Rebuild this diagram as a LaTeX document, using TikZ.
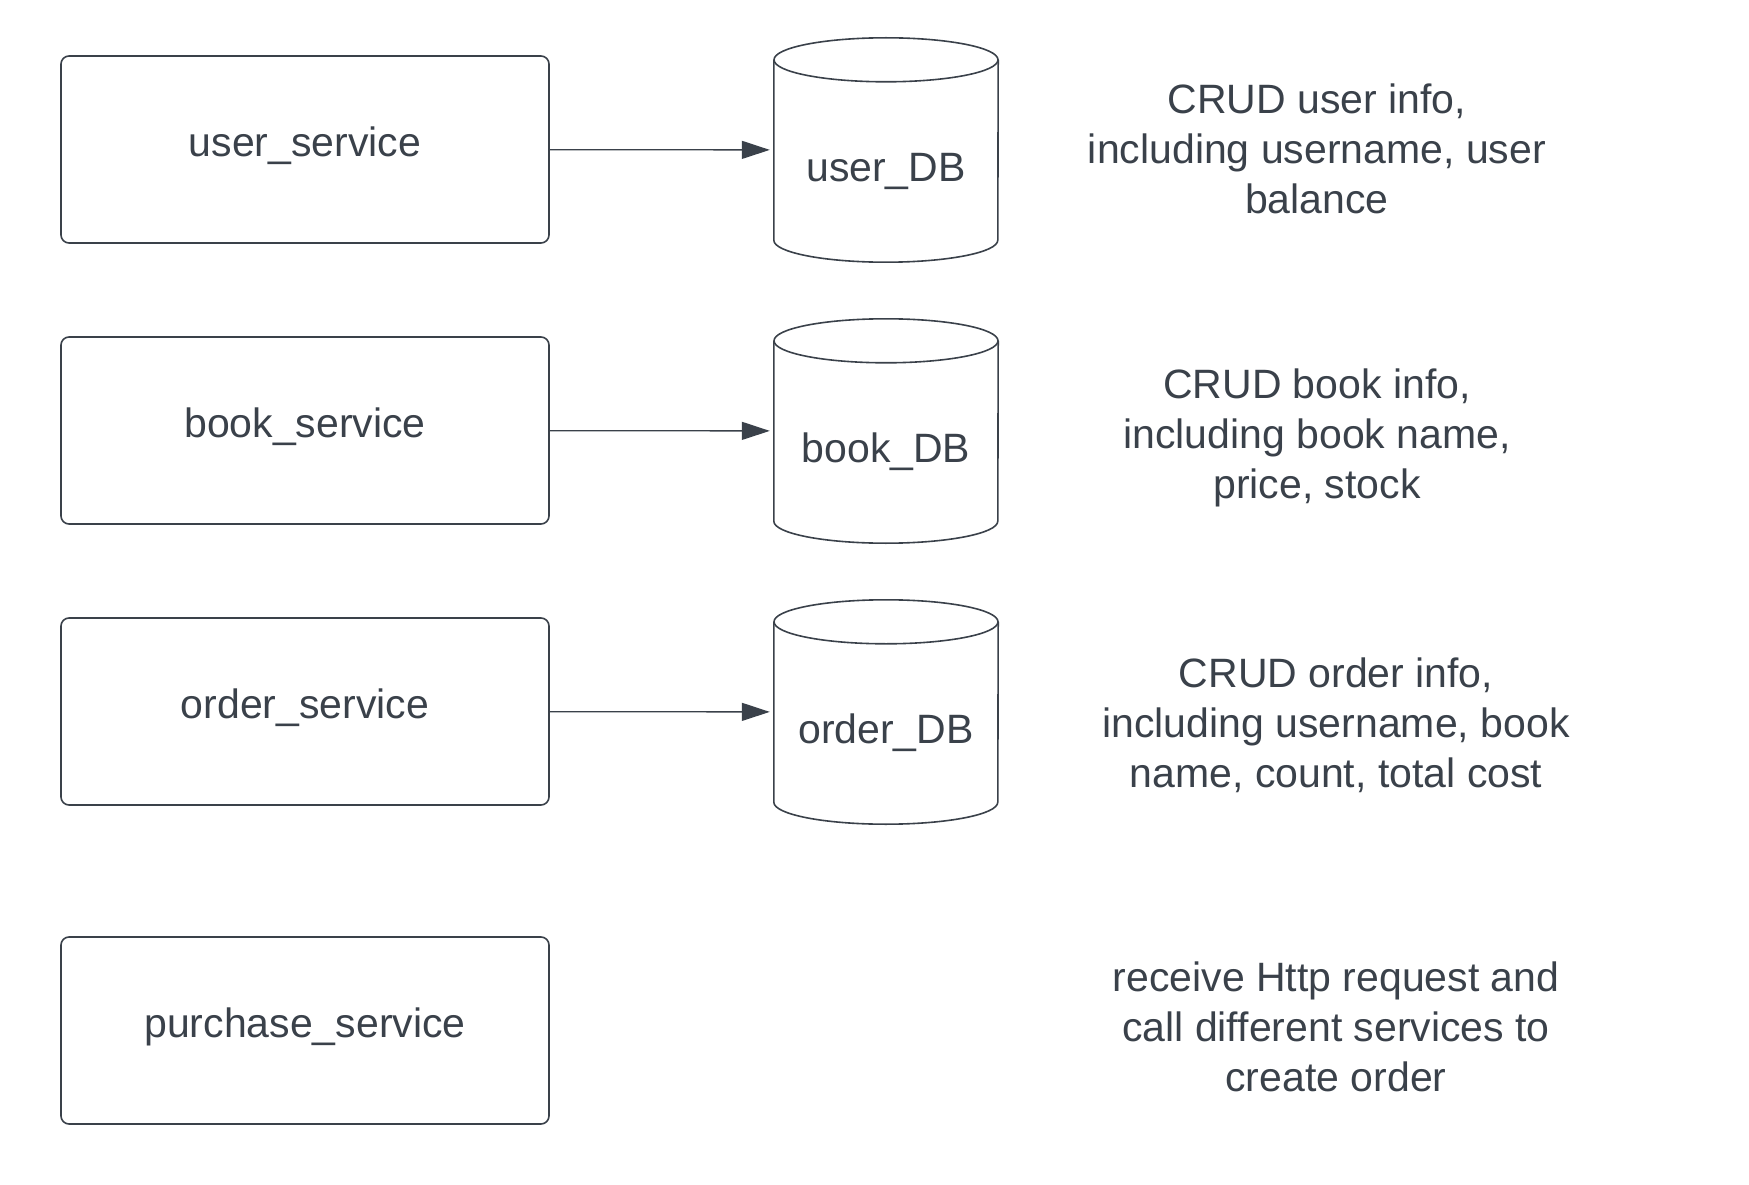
\documentclass[tikz,border=0pt]{standalone}
\usepackage{fontspec}
\setmainfont{Liberation Sans}
\usetikzlibrary{arrows.meta}
\begin{document}
\begin{tikzpicture}[x=1pt,y=-1pt,font=\fontsize{41}{50}\selectfont]
\definecolor{ink}{HTML}{3A414A}
\tikzset{
  svc/.style={draw=ink,line width=1.6pt,rounded corners=8pt,minimum width=488pt,minimum height=187pt,text=ink,text height=28pt,text depth=14pt},
  db/.style={minimum width=224pt,minimum height=224pt,inner sep=0pt},
  dbline/.style={draw=ink,line width=1.6pt},
  note/.style={align=center,text=ink},
  arr/.style={draw=ink,line width=1.3pt,shorten >=4pt,-{Triangle[length=28pt,width=18pt]}}
}
\useasboundingbox (0,0) rectangle (1749,1185);
% services
\node[svc] (usersvc) at (305,149.5) {user\_service};
\node[svc] (booksvc) at (305,430.5) {book\_service};
\node[svc] (ordersvc) at (305,711.5) {order\_service};
\node[svc] (purchasesvc) at (305,1030.5) {purchase\_service};
% databases
\node[db,label={[text=ink,yshift=-21pt]center:user\_DB}] (userdb) at (886,150) {};
\node[db,label={[text=ink,yshift=-21pt]center:book\_DB}] (bookdb) at (886,431) {};
\node[db,label={[text=ink,yshift=-21pt]center:order\_DB}] (orderdb) at (886,712) {};
\foreach \d in {userdb,bookdb,orderdb}{
  \draw[dbline] ([yshift=-22pt]\d.north) ellipse [x radius=112pt,y radius=22pt];
  \draw[dbline] ([yshift=-22pt]\d.north west) -- ([yshift=22pt]\d.south west)
    arc[start angle=180,end angle=360,x radius=112pt,y radius=22pt] -- ([yshift=-22pt]\d.north east);
}
\draw[arr] (usersvc) -- (userdb);
\draw[arr] (booksvc) -- (bookdb);
\draw[arr] (ordersvc) -- (orderdb);
% descriptions
\node[note] (usernote) at (1317,148.5) {CRUD user info,\\including username, user\\balance};
\node[note] (booknote) at (1317,438) {CRUD book info,\\including book name,\\price, stock};
\node[note] (ordernote) at (1336,725) {CRUD order info,\\including username, book\\name, count, total cost};
\node[note] (purchasenote) at (1336,1027) {receive Http request and\\call different services to\\create order};
\end{tikzpicture}
\end{document}
